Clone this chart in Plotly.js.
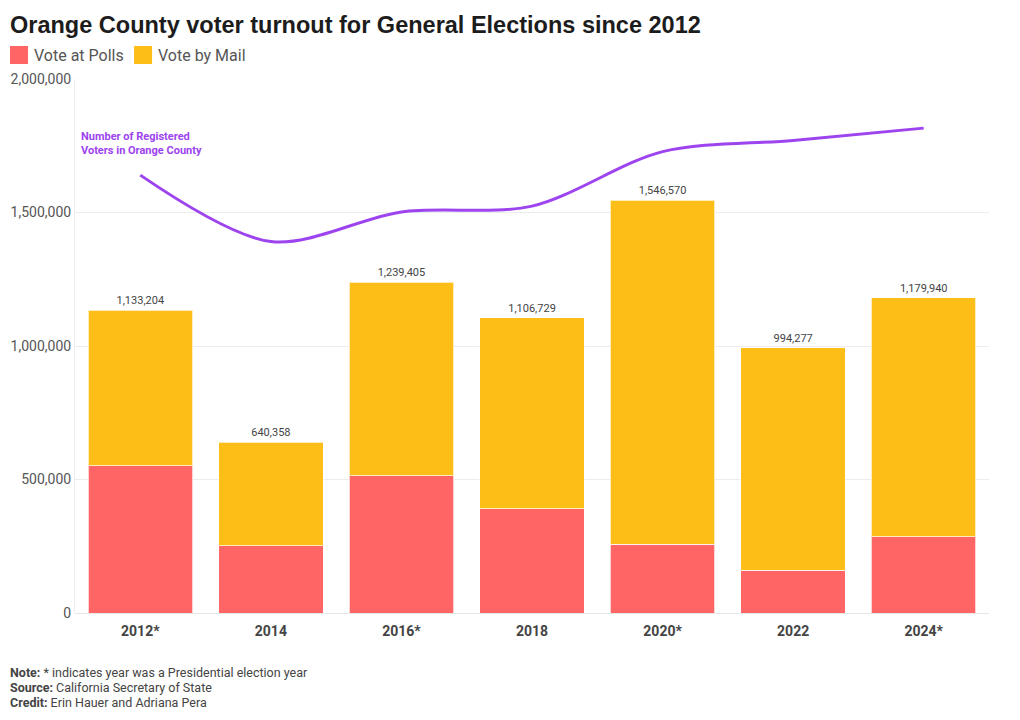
<!DOCTYPE html>
<html>
<head>
<meta charset="utf-8">
<script src="https://cdn.plot.ly/plotly-3.0.1.min.js"></script>
<style>
html,body{margin:0;padding:0;background:#fff;}
#chart{width:1020px;height:720px;}
</style>
</head>
<body>
<div id="chart"></div>
<script>
const years = ["2012*", "2014", "2016*", "2018", "2020*", "2022", "2024*"];
const totalVotes = [1133204, 640358, 1239405, 1106729, 1546570, 994277, 1179940];
const votePolls = [551000, 251000, 514000, 390000, 258000, 161000, 285000];
const voteMail = totalVotes.map((t, i) => t - votePolls[i]);
const registeredVoters = [1640000, 1391000, 1502000, 1524000, 1728000, 1770000, 1816000];

const RED = "#ff6565";
const ORANGE = "#fdbe18";
const PURPLE = "#9d44ef";
const FONT = "Roboto, 'Noto Sans', sans-serif";

const traces = [
  {
    type: "bar", name: "Vote at Polls", x: years, y: votePolls,
    marker: {color: RED, line: {color: "rgba(255,255,255,0.7)", width: 1}},
    hoverinfo: "skip", showlegend: false
  },
  {
    type: "bar", name: "Vote by Mail", x: years, y: voteMail,
    customdata: totalVotes,
    texttemplate: "%{customdata:,}", textposition: "outside",
    textfont: {family: FONT, size: 11, color: "#444"},
    cliponaxis: false,
    marker: {color: ORANGE, line: {color: "rgba(255,255,255,0.7)", width: 1}},
    hoverinfo: "skip", showlegend: false
  },
  {
    type: "scatter", mode: "lines", name: "Registered Voters", x: years, y: registeredVoters,
    line: {color: PURPLE, width: 3, shape: "spline", smoothing: 0.9},
    hoverinfo: "skip", showlegend: false
  }
];

const layout = {
  width: 1020, height: 720,
  margin: {l: 75, r: 31, t: 79, b: 107},
  paper_bgcolor: "#fff", plot_bgcolor: "#fff",
  barmode: "stack", bargap: 0.2,
  font: {family: FONT, color: "#555"},
  title: {
    text: "<b>Orange County voter turnout for General Elections since 2012</b>",
    x: 10 / 1020, xanchor: "left", xref: "container", y: 0.965, yanchor: "middle", yref: "container",
    font: {family: "'Liberation Sans', Arial, sans-serif", size: 23.5, color: "#1c1c1c"}
  },
  xaxis: {
    type: "category", showgrid: false, zeroline: false, showline: false,
    ticks: "", ticklabelstandoff: 8,
    tickfont: {family: FONT, size: 14, color: "#444", weight: "bold"},
    fixedrange: true
  },
  yaxis: {
    range: [0, 2000000], tickvals: [0, 500000, 1000000, 1500000, 2000000],
    ticktext: ["0", "500,000", "1,000,000", "1,500,000", "2,000,000"],
    showgrid: true, gridcolor: "#ececec", gridwidth: 1,
    zeroline: true, zerolinecolor: "#e6e6e6", zerolinewidth: 1,
    showline: true, linecolor: "#eeeeee", linewidth: 1,
    ticks: "", ticklabelstandoff: 0,
    tickfont: {family: FONT, size: 14, color: "#555"},
    fixedrange: true
  },
  shapes: [
    {type: "rect", xref: "paper", yref: "paper", x0: -0.0711, x1: -0.0514, y0: 1.0281, y1: 1.0618,
     fillcolor: RED, line: {width: 0}},
    {type: "rect", xref: "paper", yref: "paper", x0: 0.0646, x1: 0.0843, y0: 1.0281, y1: 1.0618,
     fillcolor: ORANGE, line: {width: 0}}
  ],
  annotations: [
    {xref: "paper", yref: "paper", x: -0.0475, y: 1.0449, xanchor: "left", yanchor: "middle",
     text: "Vote at Polls", showarrow: false, font: {family: FONT, size: 16, color: "#555"}},
    {xref: "paper", yref: "paper", x: 0.0885, y: 1.0449, xanchor: "left", yanchor: "middle",
     text: "Vote by Mail", showarrow: false, font: {family: FONT, size: 16, color: "#555"}},
    {xref: "paper", yref: "paper", x: 0.004, y: 0.880, xanchor: "left", yanchor: "middle", align: "left",
     text: "<b>Number of Registered<br>Voters in Orange County</b>", showarrow: false,
     font: {family: FONT, size: 11, color: PURPLE}},
    {xref: "paper", yref: "paper", x: -0.0733, y: -0.1105, xanchor: "left", yanchor: "middle", align: "left",
     text: "<b>Note:</b> * indicates year was a Presidential election year",
     showarrow: false, font: {family: FONT, size: 12.5, color: "#444"}},
    {xref: "paper", yref: "paper", x: -0.0733, y: -0.1386, xanchor: "left", yanchor: "middle", align: "left",
     text: "<b>Source:</b> California Secretary of State",
     showarrow: false, font: {family: FONT, size: 12.5, color: "#444"}},
    {xref: "paper", yref: "paper", x: -0.0733, y: -0.1667, xanchor: "left", yanchor: "middle", align: "left",
     text: "<b>Credit:</b> Erin Hauer and Adriana Pera",
     showarrow: false, font: {family: FONT, size: 12.5, color: "#444"}}
  ]
};

Plotly.newPlot("chart", traces, layout, {staticPlot: true, displayModeBar: false});
</script>
</body>
</html>
